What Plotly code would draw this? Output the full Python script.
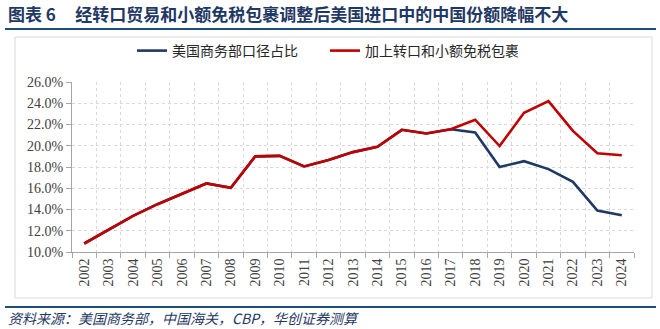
import plotly.graph_objects as go

years = [str(y) for y in range(2002, 2025)]
us_commerce = [10.8, 12.1, 13.4, 14.5, 15.5, 16.45, 16.05, 19.0, 19.05, 18.05, 18.65, 19.4, 19.9,
               21.5, 21.15, 21.55, 21.25, 18.0, 18.55, 17.8, 16.6, 13.9, 13.45]
adjusted = [10.8, 12.1, 13.4, 14.5, 15.5, 16.45, 16.05, 19.0, 19.05, 18.05, 18.65, 19.4, 19.9,
            21.5, 21.15, 21.55, 22.45, 19.97, 23.1, 24.2, 21.4, 19.3, 19.1]
yticks = [10, 12, 14, 16, 18, 20, 22, 24, 26]

W, H = 660, 329
L, R, T, B = 72, 634, 82, 252

def px(x):
    return (x - L) / (R - L)

def py(y):
    return (B - y) / (B - T)

navy = "#1F3864"
red = "#C00000"
serif = "Liberation Serif, Noto Sans CJK SC"
cjk = "Noto Sans CJK SC, Liberation Serif"
nb = "\u00a0"

fig = go.Figure()
fig.add_trace(go.Scatter(x=years, y=us_commerce, mode="lines", name="美国商务部口径占比",
                         line=dict(color=navy, width=2.6)))
fig.add_trace(go.Scatter(x=years, y=adjusted, mode="lines", name="加上转口和小额免税包裹",
                         line=dict(color=red, width=2.6)))

fig.update_layout(
    width=W, height=H, autosize=False,
    margin=dict(l=L, r=W - R, t=T, b=H - B, pad=0),
    paper_bgcolor="white", plot_bgcolor="white",
    showlegend=True,
    legend=dict(orientation="h", x=px(132), xanchor="left", y=py(51), yanchor="middle",
                font=dict(family=cjk, size=14, color="#262626"),
                entrywidth=148, entrywidthmode="pixels",
                bgcolor="rgba(0,0,0,0)", borderwidth=0, traceorder="normal"),
    xaxis=dict(type="category", tickson="boundaries", ticks="outside", ticklen=5,
               tickcolor="#A6A6A6", showline=True, linecolor="#A6A6A6", linewidth=1,
               showgrid=True, gridcolor="#D9D9D9", griddash="dot", gridwidth=1,
               tickangle=-90, tickfont=dict(family=serif, size=14, color="#404040"),
               range=[-0.5, len(years) - 0.5], fixedrange=True),
    yaxis=dict(range=[10, 26], tickvals=yticks, ticktext=[f"{v:.1f}%" for v in yticks],
               ticks="outside", ticklen=5, tickcolor="#A6A6A6", showline=True,
               linecolor="#A6A6A6", linewidth=1, showgrid=True, gridcolor="#D9D9D9",
               griddash="dot", gridwidth=1, zeroline=False,
               tickfont=dict(family=serif, size=14, color="#404040"), fixedrange=True),
    shapes=[
        dict(type="rect", xref="paper", yref="paper", x0=px(15), x1=px(652), y0=py(298), y1=py(37),
             line=dict(color="#D9D9D9", width=1), fillcolor="rgba(0,0,0,0)", layer="below"),
        dict(type="line", xref="paper", yref="paper", x0=px(5), x1=px(656), y0=py(29), y1=py(29),
             line=dict(color="#1F4E79", width=2)),
        dict(type="line", xref="paper", yref="paper", x0=px(5), x1=px(656), y0=py(307), y1=py(307),
             line=dict(color="#1F4E79", width=2)),
    ],
    annotations=[
        dict(text="<b>图表 6" + nb * 5 + "经转口贸易和小额免税包裹调整后美国进口中的中国份额降幅不大</b>",
             xref="paper", yref="paper", x=px(6), y=py(13), xanchor="left", yanchor="middle",
             showarrow=False, font=dict(family=cjk, size=17, color=navy)),
        dict(text="<i>资料来源：美国商务部，中国海关，CBP，华创证券测算</i>",
             xref="paper", yref="paper", x=px(6), y=py(318), xanchor="left", yanchor="middle",
             showarrow=False, font=dict(family=cjk, size=14, color=navy)),
    ],
)

fig.write_html("out.html")
